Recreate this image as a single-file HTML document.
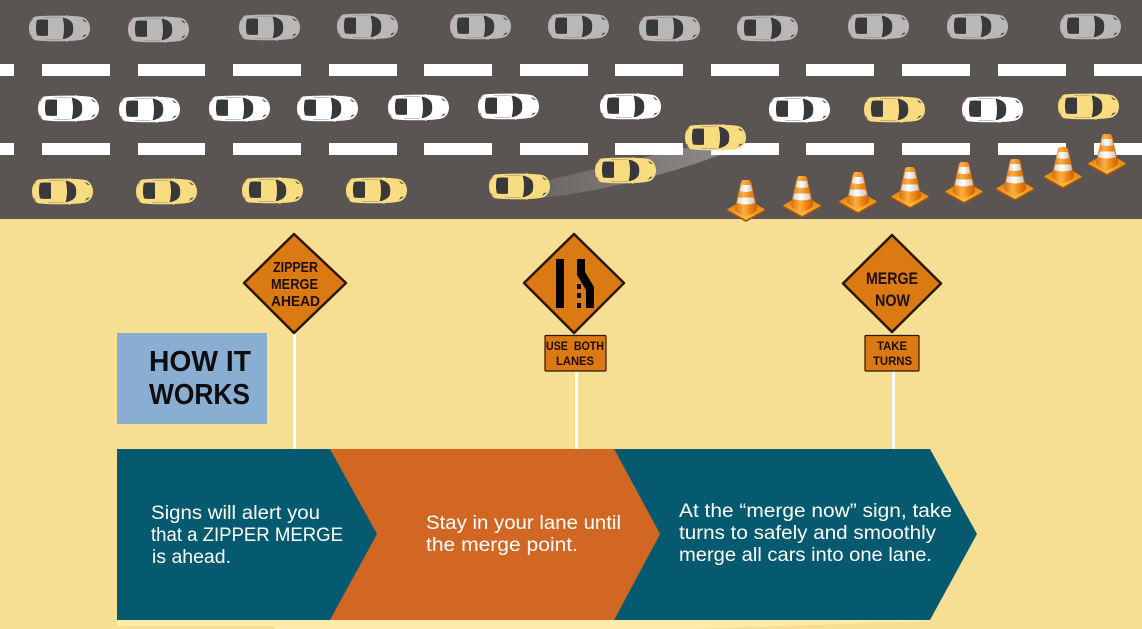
<!DOCTYPE html>
<html lang="en">
<head>
<meta charset="utf-8">
<title>How a Zipper Merge Works</title>
<style>
html,body{margin:0;padding:0;background:#f6df92;width:1142px;height:629px;overflow:hidden}
svg{display:block}
text{font-family:"Liberation Sans",sans-serif}
.b{fill:#fff;font-size:19.5px}
.s{fill:#1c0f05;font-weight:700;text-anchor:start}
</style>
</head>
<body>
<svg width="1142" height="629" viewBox="0 0 1142 629" xmlns="http://www.w3.org/2000/svg">
<defs>
  <linearGradient id="cg" x1="0" x2="1" y1="0" y2="0">
    <stop offset="0" stop-color="#d96d0a"/><stop offset=".4" stop-color="#fbb045"/><stop offset=".7" stop-color="#ee8412"/><stop offset="1" stop-color="#c85f06"/>
  </linearGradient>
  <linearGradient id="wg" x1="0" x2="1" y1="0" y2="0">
    <stop offset="0" stop-color="#d8d2ca"/><stop offset=".45" stop-color="#fff"/><stop offset="1" stop-color="#c9c2b8"/>
  </linearGradient>
  <linearGradient id="bg" x1="0" x2="0" y1="0" y2="1">
    <stop offset="0" stop-color="#c76a08"/><stop offset=".6" stop-color="#f09a1c"/><stop offset="1" stop-color="#f9c04a"/>
  </linearGradient>
  <linearGradient id="tr" x1="0" x2="1" y1="0" y2="0">
    <stop offset="0" stop-color="#fff" stop-opacity=".08"/><stop offset="1" stop-color="#fff" stop-opacity=".32"/>
  </linearGradient>
  <symbol id="car" width="61" height="27" viewBox="0 0 61 27" overflow="visible">
    <path d="M6 1.500C15 .5 29 .6 37 .6L38 0l1 .7C46 1 51 1.300 55 2.500C59 5 61 9 61 13.500C61 18 59 22 55 24C51 25.300 46 25.700 39 26L38 27l-1-.8C29 26.400 15 26.400 6 25.200C2.500 24.300 0 19 0 13.500C0 8 2.500 3 6 1.500Z"/>
    <path d="M8 5C11 4.300 16 4.400 19 4.800L19 20.600C16 21 11 21.100 8 20.400C6.600 16 6.600 9.500 8 5Z" fill="#39393b"/>
    <path d="M33.500 2.500C38 3.300 42 5.500 43.500 8.500C44.500 11.500 44.500 15.500 43.500 18.500C42 21.500 38 23.500 33.500 24.300C35.500 18 35.500 9 33.500 2.500Z" fill="#39393b"/>
    <path d="M16 2.300H31L33 2.800H16ZM16 24.500H31L33 24H16Z" fill="#8b8782"/>
    <path d="M53 3.600L58 7L55 6.500ZM53 23L58 19.600L55 20Z" fill="#333"/>
    <path d="M5 2L1.500 6L2.500 6.500ZM4.500 25L1 20L2.500 20Z" fill="#b56a6a"/>
  </symbol>
  <symbol id="cone" width="38" height="42" viewBox="0 0 38 42" overflow="visible">
    <path d="M19 19L38 29.500L37.500 31.500L19 42L.5 31.500L0 29.500Z" fill="#a9540a"/>
    <path d="M19 18L38 29.500L19 40L0 29.500Z" fill="url(#bg)"/>
    <path d="M16.200 0H21.800Q24 0 25 6L30 28Q30 34 19 35Q8 34 8 28L13 6Q14 0 16.200 0Z" fill="url(#cg)"/>
    <path d="M14.200 5H23.800L25.200 11Q19 13 12.800 11Z" fill="url(#wg)"/>
    <path d="M11.300 17.500H26.700L28 23Q19 26 10 23Z" fill="url(#wg)"/>
  </symbol>
</defs>

<!-- background -->
<rect width="1142" height="629" fill="#f6df92"/>
<path d="M117 620H930L929 621L690 629H275V626H117Z" fill="#fcebab"/>
<rect width="1142" height="219" fill="#5a5452"/>

<!-- dashes -->
<g fill="#fff">
  <rect x="0" y="64" width="14" height="12"/><rect x="42" y="64" width="68" height="12"/><rect x="138" y="64" width="67" height="12"/><rect x="233" y="64" width="68" height="12"/><rect x="329" y="64" width="68" height="12"/><rect x="424" y="64" width="68" height="12"/><rect x="520" y="64" width="68" height="12"/><rect x="615" y="64" width="68" height="12"/><rect x="711" y="64" width="68" height="12"/><rect x="806" y="64" width="68" height="12"/><rect x="902" y="64" width="68" height="12"/><rect x="998" y="64" width="68" height="12"/><rect x="1094" y="64" width="48" height="12"/>
  <rect x="0" y="143" width="14" height="12"/><rect x="42" y="143" width="68" height="12"/><rect x="138" y="143" width="67" height="12"/><rect x="233" y="143" width="68" height="12"/><rect x="329" y="143" width="68" height="12"/><rect x="424" y="143" width="68" height="12"/><rect x="520" y="143" width="68" height="12"/><rect x="615" y="143" width="68" height="12"/><rect x="711" y="143" width="68" height="12"/><rect x="806" y="143" width="68" height="12"/><rect x="902" y="143" width="68" height="12"/><rect x="998" y="143" width="68" height="12"/><rect x="1094" y="143" width="48" height="12"/>
</g>

<!-- trail -->
<path d="M510 200C580 198 670 175 733 150L684 148L548 180Z" fill="url(#tr)"/>

<!-- gray cars -->
<g fill="#b9b8b7">
  <use href="#car" x="29" y="15"/><use href="#car" x="128" y="16"/><use href="#car" x="239" y="14"/><use href="#car" x="337" y="13"/><use href="#car" x="450" y="13"/><use href="#car" x="548" y="13"/><use href="#car" x="639" y="15"/><use href="#car" x="737" y="15"/><use href="#car" x="848" y="13"/><use href="#car" x="947" y="13"/><use href="#car" x="1060" y="13"/>
</g>
<!-- white cars -->
<g fill="#fff">
  <use href="#car" x="38" y="95"/><use href="#car" x="119" y="96"/><use href="#car" x="209" y="95"/><use href="#car" x="297" y="95"/><use href="#car" x="388" y="94"/><use href="#car" x="478" y="93"/><use href="#car" x="600" y="93"/><use href="#car" x="769" y="96"/><use href="#car" x="962" y="96"/>
</g>
<!-- yellow cars -->
<g fill="#f8dc80">
  <use href="#car" x="864" y="96"/><use href="#car" x="1058" y="93"/>
  <use href="#car" x="32" y="178"/><use href="#car" x="136" y="178"/><use href="#car" x="242" y="177"/><use href="#car" x="346" y="177"/><use href="#car" x="489" y="173"/><use href="#car" x="595" y="157"/><use href="#car" x="685" y="124"/>
</g>

<!-- cones -->
<use href="#cone" x="727" y="180"/><use href="#cone" x="783" y="176"/><use href="#cone" x="839" y="172"/><use href="#cone" x="891" y="167"/><use href="#cone" x="945" y="162"/><use href="#cone" x="996" y="159"/><use href="#cone" x="1044" y="147"/><use href="#cone" x="1088" y="134"/>

<!-- posts -->
<g fill="#fff">
  <rect x="293" y="334" width="3" height="115"/>
  <rect x="575" y="371" width="3" height="78"/>
  <rect x="892" y="371" width="3" height="78"/>
</g>

<!-- How it works -->
<rect x="117" y="333" width="150" height="91" fill="#89aed1"/>
<text x="149" y="371" font-size="29" font-weight="700" fill="#0d0d12" textLength="102" lengthAdjust="spacingAndGlyphs">HOW IT</text>
<text x="149" y="404" font-size="29" font-weight="700" fill="#0d0d12" textLength="101" lengthAdjust="spacingAndGlyphs">WORKS</text>

<!-- sign 1 -->
<path d="M294 234L346 283L294 333L244 283Z" fill="#db7a12" stroke="#2c1706" stroke-width="2.500" stroke-linejoin="round"/>
<g class="s">
  <text x="273" y="272" font-size="15" textLength="45" lengthAdjust="spacingAndGlyphs">ZIPPER</text>
  <text x="271" y="289" font-size="15" textLength="47" lengthAdjust="spacingAndGlyphs">MERGE</text>
  <text x="271" y="306" font-size="15" textLength="49" lengthAdjust="spacingAndGlyphs">AHEAD</text>
</g>

<!-- sign 2 -->
<path d="M574 234L624 283L574 333L524 283Z" fill="#db7a12" stroke="#2c1706" stroke-width="2.500" stroke-linejoin="round"/>
<g fill="#000">
  <rect x="556" y="259" width="8" height="49"/>
  <path d="M577 259H585V272L594 287V308H586V290L577 275Z"/>
  <rect x="577" y="284" width="4" height="5"/><rect x="577" y="293" width="4" height="5"/><rect x="577" y="303" width="4" height="5"/>
</g>
<rect x="545" y="335.500" width="61" height="35.500" rx="1" fill="#db7a12" stroke="#2c1706" stroke-width="1.200"/>
<g class="s">
  <text x="546" y="350" font-size="12" textLength="58" lengthAdjust="spacingAndGlyphs" xml:space="preserve">USE  BOTH</text>
  <text x="556" y="365" font-size="12" textLength="38" lengthAdjust="spacingAndGlyphs">LANES</text>
</g>

<!-- sign 3 -->
<path d="M892 235L941 283.500L892 332L843 283.500Z" fill="#db7a12" stroke="#2c1706" stroke-width="2.500" stroke-linejoin="round"/>
<g class="s">
  <text x="866" y="284" font-size="17" textLength="52" lengthAdjust="spacingAndGlyphs">MERGE</text>
  <text x="875" y="306" font-size="17" textLength="35" lengthAdjust="spacingAndGlyphs">NOW</text>
</g>
<rect x="865" y="335.500" width="54" height="35.500" rx="1" fill="#db7a12" stroke="#2c1706" stroke-width="1.200"/>
<g class="s">
  <text x="877" y="350" font-size="12" textLength="30" lengthAdjust="spacingAndGlyphs">TAKE</text>
  <text x="873" y="365" font-size="12" textLength="39" lengthAdjust="spacingAndGlyphs">TURNS</text>
</g>

<!-- chevrons -->
<path d="M117 449H614L660 534L614 620H117Z" fill="#055a70"/>
<path d="M614 449H930L977 534L930 620H614L660 534Z" fill="#055a70"/>
<path d="M330 449H614L660 534L614 620H330L377 534Z" fill="#d16722"/>

<!-- chevron text -->
<text class="b" x="151" y="519" textLength="169" lengthAdjust="spacingAndGlyphs">Signs will alert you</text>
<text class="b" x="151" y="541" textLength="192" lengthAdjust="spacingAndGlyphs">that a ZIPPER MERGE</text>
<text class="b" x="152" y="563" textLength="79" lengthAdjust="spacingAndGlyphs">is ahead.</text>
<text class="b" x="426" y="529" textLength="195" lengthAdjust="spacingAndGlyphs">Stay in your lane until</text>
<text class="b" x="426" y="551" textLength="152" lengthAdjust="spacingAndGlyphs">the merge point.</text>
<text class="b" x="679" y="517" textLength="273" lengthAdjust="spacingAndGlyphs">At the “merge now” sign, take</text>
<text class="b" x="679" y="539" textLength="257" lengthAdjust="spacingAndGlyphs">turns to safely and smoothly</text>
<text class="b" x="679" y="561" textLength="253" lengthAdjust="spacingAndGlyphs">merge all cars into one lane.</text>
</svg>
</body>
</html>
